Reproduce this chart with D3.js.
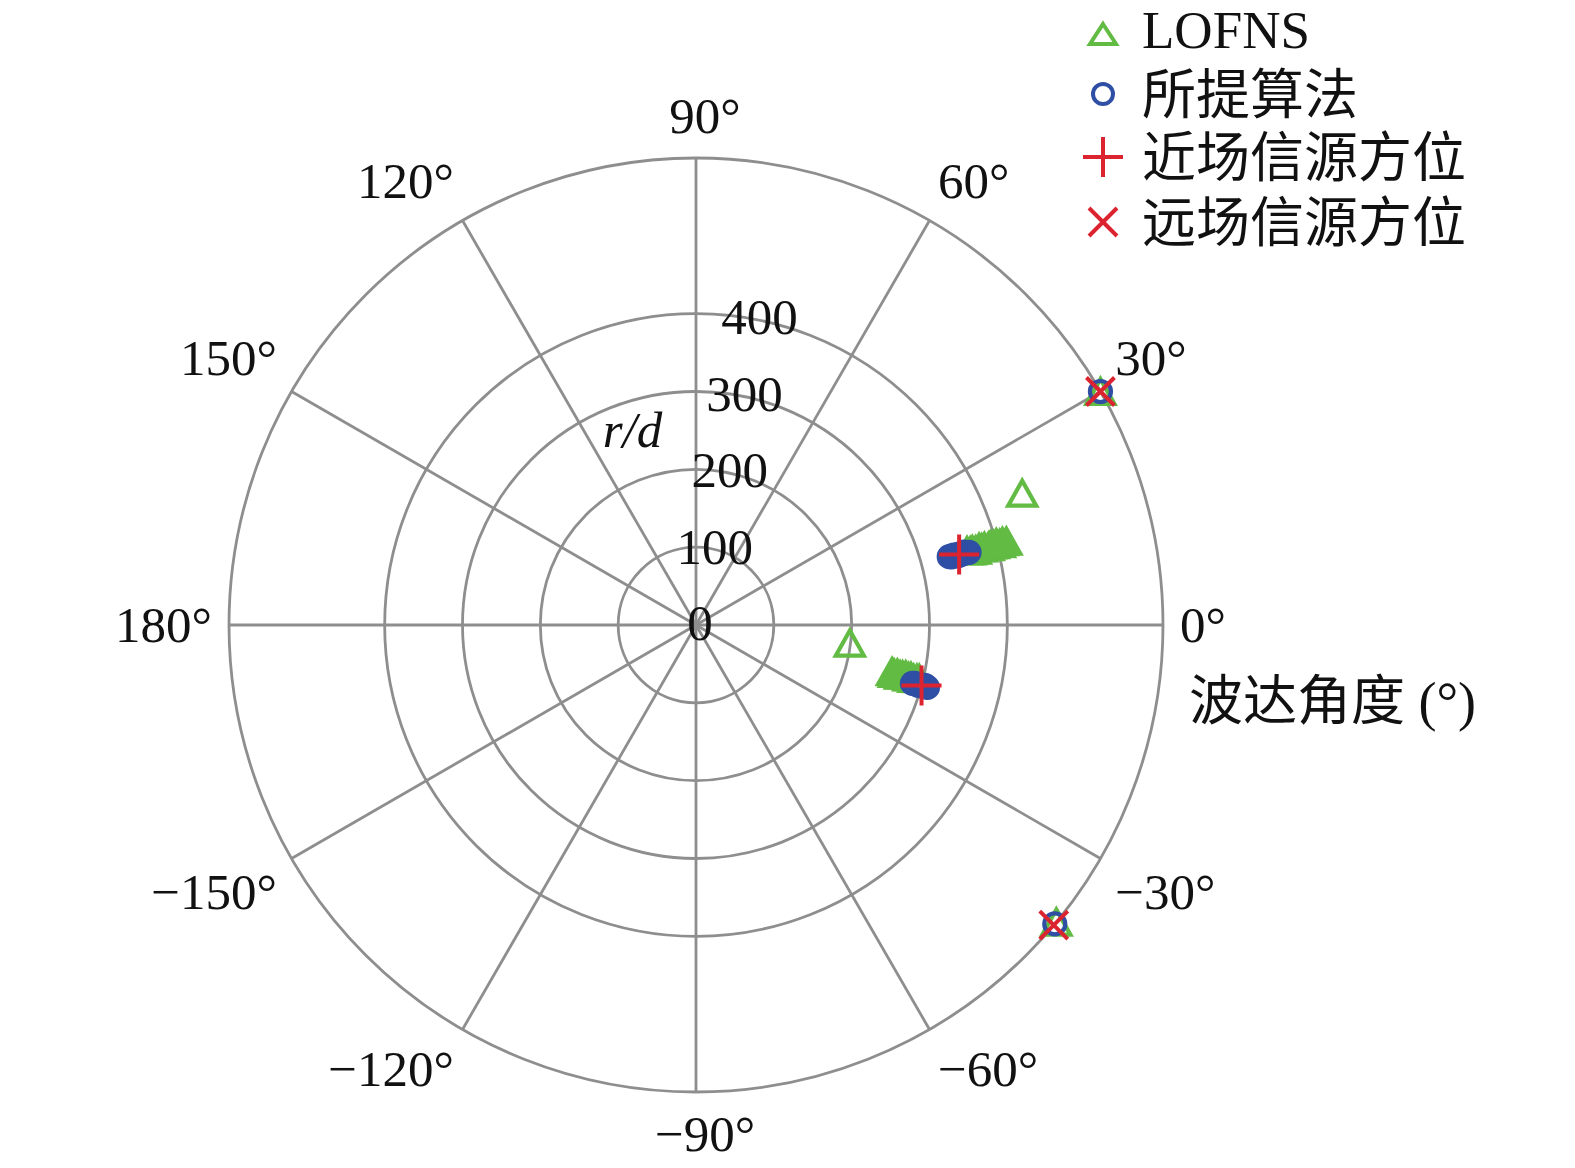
<!DOCTYPE html>
<html>
<head>
<meta charset="utf-8">
<script src="https://cdn.jsdelivr.net/npm/d3@7"></script>
<style>
  html, body { margin: 0; padding: 0; background: #fff; }
  svg { display: block; }
</style>
</head>
<body>
<svg id="chart" width="1575" height="1168"></svg>
<script>
// ---------------- data ----------------
const angleTicks = [0, 30, 60, 90, 120, 150, 180, -150, -120, -90, -60, -30];
const angleTickLabels = ["0°", "30°", "60°", "90°", "120°", "150°", "180°", "−150°", "−120°", "−90°", "−60°", "−30°"];
const radialRings = [100, 200, 300, 400];
const radialTickValues = [0, 100, 200, 300, 400];
const radialTickLabels = ["0", "100", "200", "300", "400"];
const rMax = 600;

// LOFNS estimates (angle in degrees, r/d)
const lofnsTheta = [15.3, 15.1, 15.2, 15.0, 15.3, 15.1, 15.2, 15.0, 15.2, 15.1, 15.3, 15.0, 15.2, 15.1, 22.0,
                    -13.4, -13.7, -13.5, -13.8, -13.6, -13.4, -13.7, -13.5, -13.8, -13.6, -13.5, -6.7,
                    30.0, -39.5];
const lofnsR = [361, 365, 368, 372, 377, 380, 384, 389, 392, 396, 400, 404, 408, 413, 452,
                259, 262, 266, 270, 273, 277, 281, 284, 288, 292, 295, 199,
                600, 600];

// Proposed algorithm estimates
const proposedTheta = [15.1, 14.9, 15.2, 15.0, 14.8, 15.1, 15.0, 14.9, 15.2, 15.0, 14.9,
                       -15.1, -14.9, -15.0, -15.2, -14.9, -15.0, -15.1, -14.8, -15.0, -15.1,
                       30.0, -39.8];
const proposedR = [337, 340, 343, 345, 348, 350, 352, 354, 357, 360, 363,
                   288, 291, 294, 296, 299, 300, 302, 304, 306, 308,
                   600, 600];

// True source positions
const nearTheta = [15, -15];
const nearR = [350, 300];
const farTheta = [30, -40];
const farR = [600, 600];

const legendLabels = ["LOFNS", "所提算法", "近场信源方位", "远场信源方位"];
const axisLabel = "波达角度 (°)";
const radialAxisLabel = "r/d";

// ---------------- layout ----------------
const cx = 696, cy = 625, R = 467;
const green = "#62bb43", blue = "#2f4fa5", red = "#dc2430", grid = "#8e8e8e";
const serif = "'Liberation Serif', 'Times New Roman', serif";
const cjk = "'Liberation Serif', 'Noto Sans CJK SC', serif";

const svg = d3.select("#chart");
const r = d3.scaleLinear().domain([0, rMax]).range([0, R]);
const rad = d => d * Math.PI / 180;
const px = (t, v) => cx + r(v) * Math.cos(rad(t));
const py = (t, v) => cy - r(v) * Math.sin(rad(t));

const g = svg.append("g");

// grid rings
g.selectAll("circle.ring").data(radialRings).join("circle")
  .attr("class", "ring").attr("cx", cx).attr("cy", cy).attr("r", d => r(d))
  .attr("fill", "none").attr("stroke", grid).attr("stroke-width", 2.8);
g.append("circle").attr("cx", cx).attr("cy", cy).attr("r", r(rMax))
  .attr("fill", "none").attr("stroke", grid).attr("stroke-width", 2.8);

// spokes
g.selectAll("line.spoke").data(angleTicks).join("line")
  .attr("class", "spoke")
  .attr("x1", cx).attr("y1", cy)
  .attr("x2", d => px(d, rMax)).attr("y2", d => py(d, rMax))
  .attr("stroke", grid).attr("stroke-width", 2.8);

// angle labels: box pushed out from a circle slightly beyond the outer ring
const aLab = g.selectAll("text.alab").data(angleTicks).join("text")
  .attr("class", "alab")
  .attr("font-family", serif).attr("font-size", 51)
  .attr("text-anchor", "middle")
  .attr("fill", "#111")
  .text((d, i) => angleTickLabels[i]);
aLab.each(function(d) {
  const w = this.getBBox().width;
  const c = Math.cos(rad(d)), s = Math.sin(rad(d));
  const ac = Math.abs(c) < 1e-6 ? 0 : Math.sign(c);
  const as = Math.abs(s) < 1e-6 ? 0 : Math.sign(s);
  const rho = R + 17;
  const x = cx + rho * c + (w / 2) * ac + (ac === 0 ? 9 : 0);
  const y = cy - (rho * s + 25 * as);
  d3.select(this).attr("x", x).attr("y", y + 17);
});

// radial tick labels
g.selectAll("text.rlab").data(radialTickValues).join("text")
  .attr("class", "rlab")
  .attr("font-family", serif).attr("font-size", 51)
  .attr("text-anchor", "middle").attr("fill", "#111")
  .attr("x", d => px(79, d) + 4)
  .attr("y", d => py(79, d) + 15)
  .text((d, i) => radialTickLabels[i]);

// r/d label
g.append("text")
  .attr("font-family", serif).attr("font-size", 51).attr("font-style", "italic")
  .attr("text-anchor", "middle").attr("fill", "#111")
  .attr("x", px(108, 264)).attr("y", py(108, 264) + 17)
  .text(radialAxisLabel);

// axis label
g.append("text")
  .attr("font-family", cjk).attr("font-size", 54).attr("fill", "#111")
  .attr("x", cx + R + 26).attr("y", cy + 95)
  .text(axisLabel);

// ---------------- markers ----------------
const triPath = "M0,-12.5 L14,12.5 L-14,12.5 Z";
const plusPath = "M-20,0 L20,0 M0,-20 L0,20";
const xPath = "M-14,-14 L14,14 M-14,14 L14,-14";

const lofns = lofnsTheta.map((t, i) => [t, lofnsR[i]]);
const proposed = proposedTheta.map((t, i) => [t, proposedR[i]]);
const near = nearTheta.map((t, i) => [t, nearR[i]]);
const far = farTheta.map((t, i) => [t, farR[i]]);

g.selectAll("path.lofns").data(lofns).join("path")
  .attr("class", "lofns").attr("d", triPath)
  .attr("transform", d => `translate(${px(d[0], d[1])},${py(d[0], d[1])})`)
  .attr("fill", "none").attr("stroke", green).attr("stroke-width", 4.2)
  .attr("stroke-linejoin", "miter");

g.selectAll("circle.prop").data(proposed).join("circle")
  .attr("class", "prop")
  .attr("cx", d => px(d[0], d[1])).attr("cy", d => py(d[0], d[1])).attr("r", 10.5)
  .attr("fill", "none").attr("stroke", blue).attr("stroke-width", 4.2);

g.selectAll("path.near").data(near).join("path")
  .attr("class", "near").attr("d", plusPath)
  .attr("transform", d => `translate(${px(d[0], d[1])},${py(d[0], d[1])})`)
  .attr("stroke", red).attr("stroke-width", 4);

g.selectAll("path.far").data(far).join("path")
  .attr("class", "far").attr("d", xPath)
  .attr("transform", d => `translate(${px(d[0], d[1])},${py(d[0], d[1])})`)
  .attr("stroke", red).attr("stroke-width", 4);

// ---------------- legend ----------------
const legX = 1103, legTextX = 1142;
const legRowY = [31, 94, 157, 222];
const leg = svg.append("g");
leg.append("path").attr("d", "M0,-10 L13,10 L-13,10 Z")
  .attr("transform", `translate(${legX},${legRowY[0] + 3})`)
  .attr("fill", "none").attr("stroke", green).attr("stroke-width", 4);
leg.append("circle").attr("cx", legX).attr("cy", legRowY[1]).attr("r", 10)
  .attr("fill", "none").attr("stroke", blue).attr("stroke-width", 4);
leg.append("path").attr("d", plusPath)
  .attr("transform", `translate(${legX},${legRowY[2]})`)
  .attr("stroke", red).attr("stroke-width", 4);
leg.append("path").attr("d", xPath)
  .attr("transform", `translate(${legX},${legRowY[3]})`)
  .attr("stroke", red).attr("stroke-width", 4);

leg.selectAll("text").data(legendLabels).join("text")
  .attr("x", legTextX)
  .attr("y", (d, i) => legRowY[i] + (i === 0 ? 17 : 20))
  .attr("font-family", (d, i) => i === 0 ? serif : cjk)
  .attr("font-size", (d, i) => i === 0 ? 53 : 54)
  .attr("fill", "#111")
  .text(d => d);
</script>
</body>
</html>
